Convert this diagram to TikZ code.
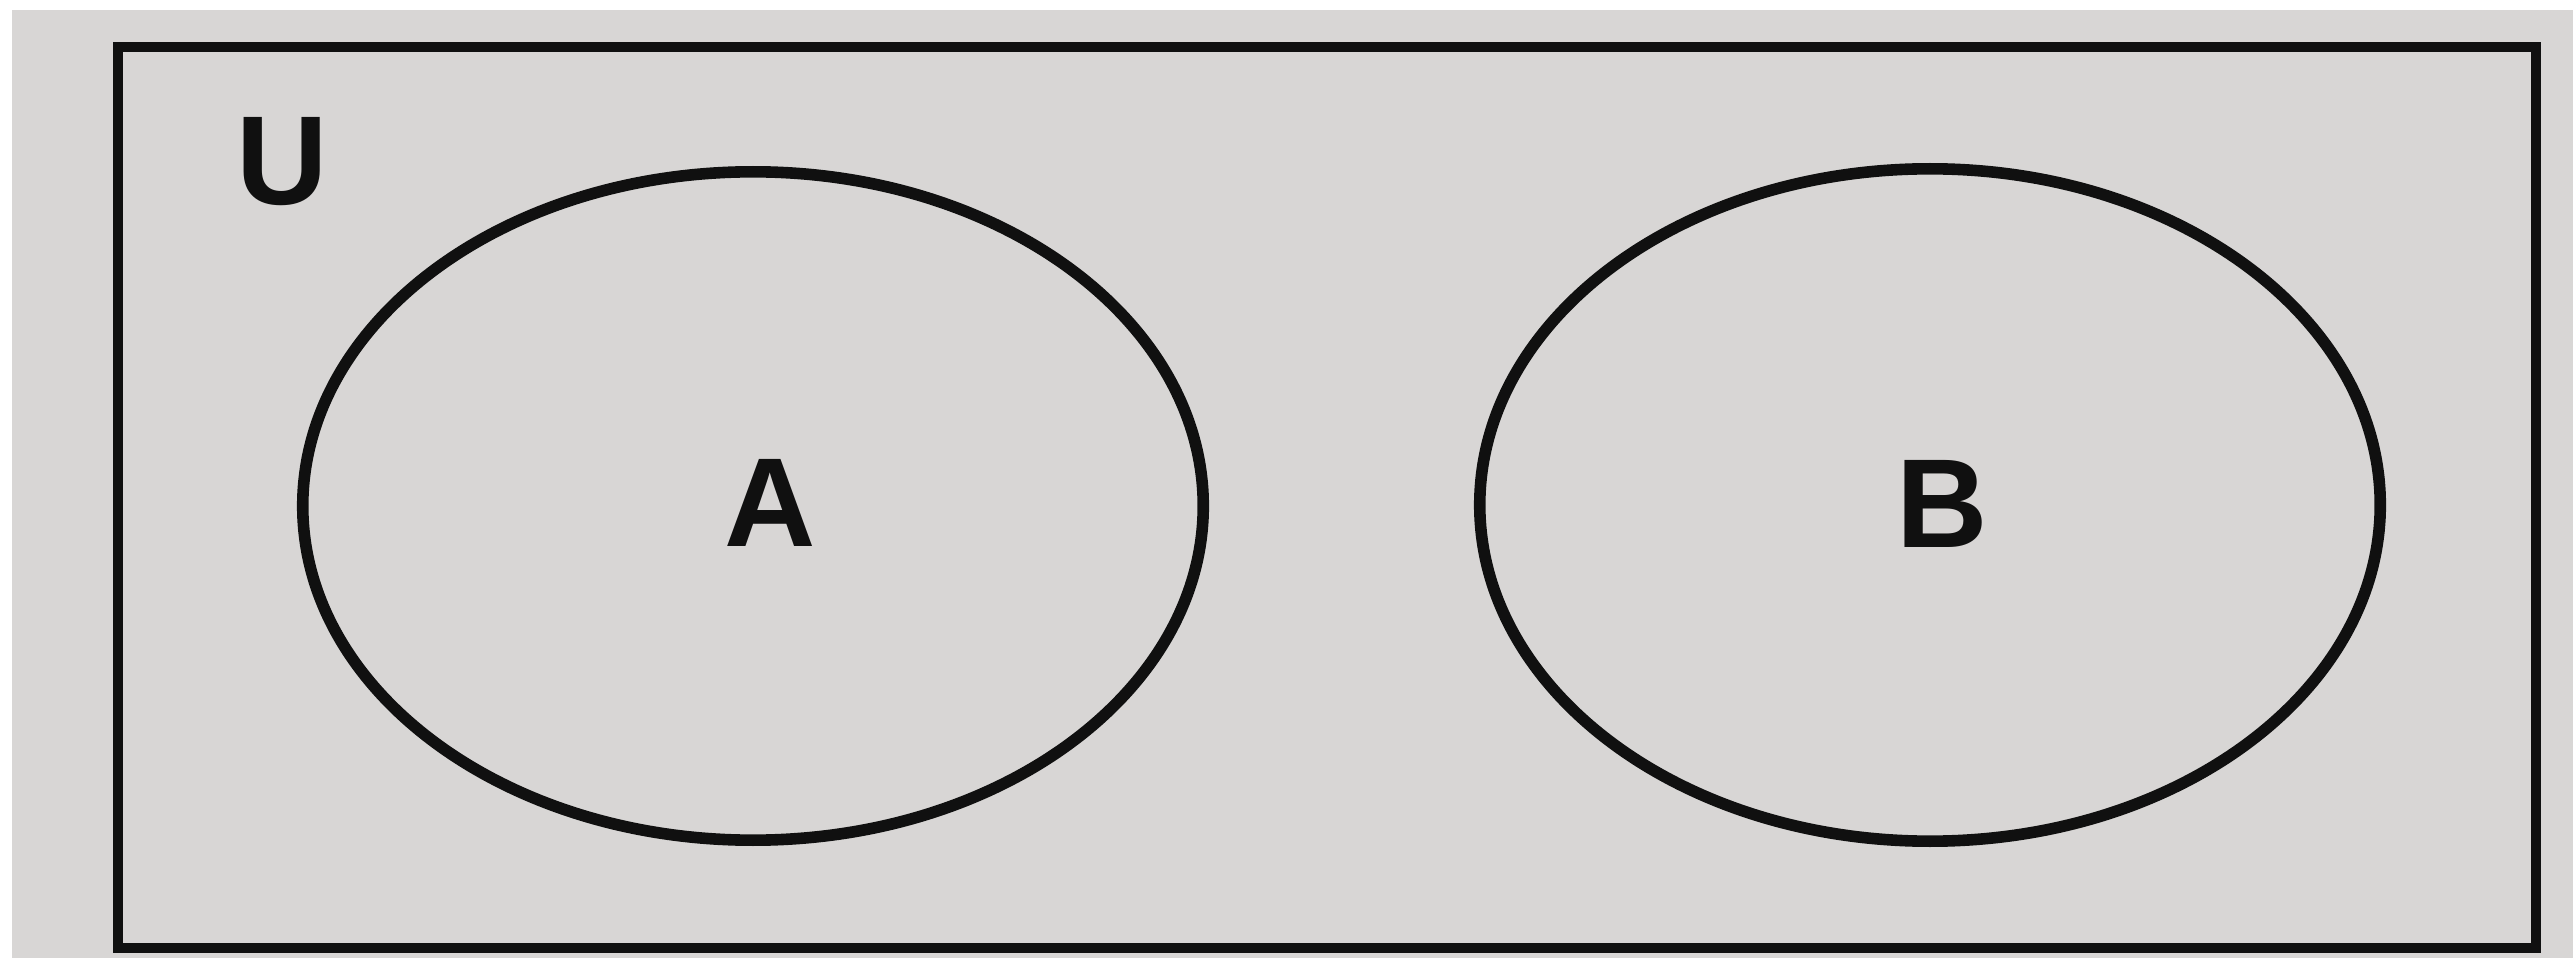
\documentclass[tikz,border=0pt]{standalone}
\usepackage{fontspec}
\setmainfont{Liberation Sans}
\usepackage{tikz}
\usetikzlibrary{shapes.geometric}

\definecolor{paper}{HTML}{D8D6D5}
\definecolor{ink}{HTML}{101010}

\begin{document}
\begin{tikzpicture}[x=0.01cm,y=-0.01cm,
 univ/.style={draw=ink,line width=2.9pt,rectangle,minimum width=24.16cm,minimum height=9.01cm,inner sep=0pt},
 setshape/.style={draw=ink,line width=3.3pt,ellipse,minimum width=9cm,inner sep=0pt},
 lbl/.style={text=ink,inner sep=0pt,font=\fontsize{36}{40}\selectfont\bfseries}]
% paper
\fill[white] (0,0) rectangle (2573,958);
\fill[paper] (12,10) rectangle (2573,958);
\useasboundingbox (0,0) rectangle (2573,958);
% universe and sets
\node[univ] (univ) at (1327,497.5) {};
\node[lbl] (labU) at (282,162) {U};
\node[setshape,minimum height=6.68cm] (setA) at (753,506) {};
\node[setshape,minimum height=6.72cm] (setB) at (1930,505) {};
\node[lbl] (labA) at (770,503) {A};
\node[lbl] (labB) at (1942,504) {B};
\end{tikzpicture}
\end{document}
